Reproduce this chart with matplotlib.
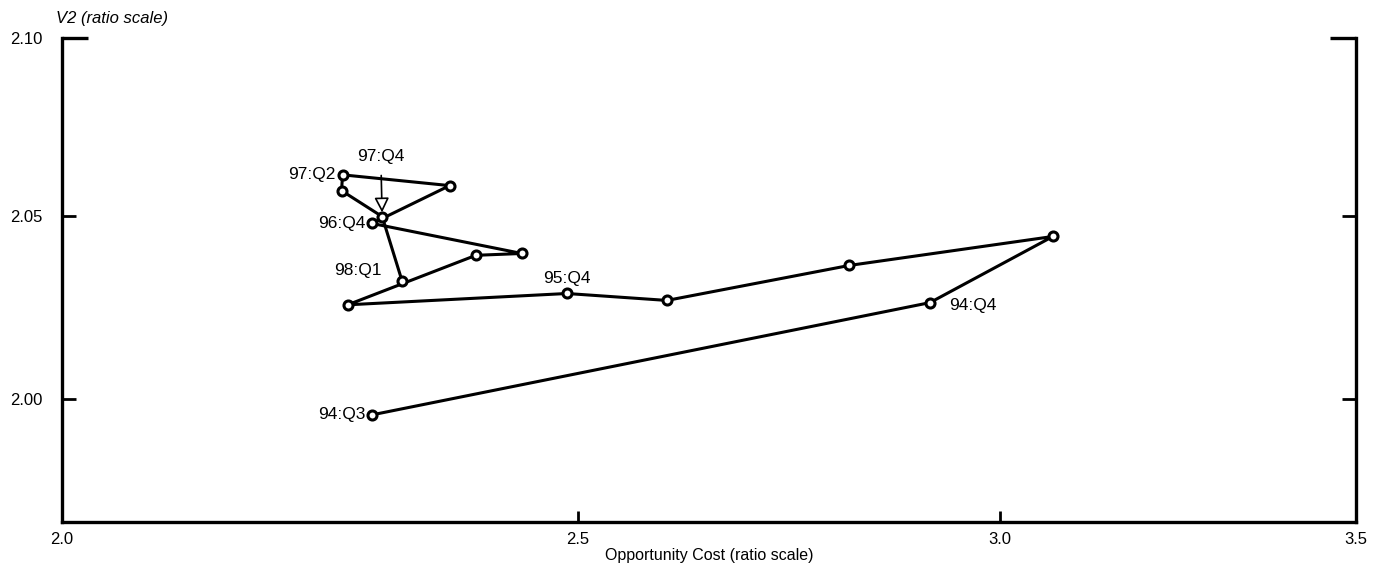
import matplotlib
matplotlib.use("Agg")
import matplotlib.pyplot as plt
from matplotlib.ticker import FixedLocator, NullFormatter, FixedFormatter

# quarterly path, 94:Q3 .. 98:Q1
quarters = ["94:Q3", "94:Q4", "95:Q1", "95:Q2", "95:Q3", "95:Q4",
            "96:Q1", "96:Q2", "96:Q3", "96:Q4",
            "97:Q1", "97:Q2", "97:Q3", "97:Q4", "98:Q1"]
opp_cost = [2.287, 2.911, 3.070, 2.811, 2.598, 2.488,
            2.263, 2.392, 2.440, 2.287,
            2.365, 2.258, 2.257, 2.297, 2.317]
v2 = [1.9957, 2.0262, 2.0444, 2.0364, 2.0268, 2.0287,
      2.0256, 2.0392, 2.0397, 2.0480,
      2.0585, 2.0615, 2.0571, 2.0499, 2.0320]

x_ticks = [2.0, 2.5, 3.0, 3.5]
x_ticklabels = ["2.0", "2.5", "3.0", "3.5"]
y_ticks = [2.00, 2.05]
y_ticklabels = ["2.00", "2.05"]
y_top = 2.10

plt.rcParams["font.family"] = ["Liberation Sans", "DejaVu Sans"]

fig = plt.figure(figsize=(13.84, 5.66), dpi=100)
ax = fig.add_axes([0.0448, 0.0777, 0.9350, 0.8553])

ax.plot(opp_cost, v2, color="black", lw=2.2, marker="o", ms=6.5,
        mfc="white", mec="black", mew=2.2, zorder=3)

ax.set_xscale("log")
ax.set_yscale("log")
ax.set_xlim(2.0, 3.5)
ax.set_ylim(1.967, 2.10)

ax.xaxis.set_major_locator(FixedLocator(x_ticks))
ax.xaxis.set_major_formatter(FixedFormatter(x_ticklabels))
ax.xaxis.set_minor_locator(FixedLocator([]))
ax.xaxis.set_minor_formatter(NullFormatter())
ax.yaxis.set_major_locator(FixedLocator(y_ticks))
ax.yaxis.set_major_formatter(FixedFormatter(y_ticklabels))
ax.yaxis.set_minor_locator(FixedLocator([y_top]))
ax.yaxis.set_minor_formatter(FixedFormatter(["2.10"]))

ax.spines["top"].set_visible(False)
for s in ("left", "right", "bottom"):
    ax.spines[s].set_linewidth(2.4)

ax.tick_params(axis="x", which="major", direction="in", length=8, width=2.0,
               pad=7, labelsize=12)
ax.tick_params(axis="y", which="major", direction="in", length=10, width=2.0,
               pad=14, labelsize=12, right=True)
ax.tick_params(axis="y", which="minor", direction="in", length=19, width=2.4,
               pad=14, labelsize=12, right=True)

ax.set_xlabel("Opportunity Cost (ratio scale)", fontsize=11.5, labelpad=1)
ax.text(-0.005, 1.025, "V2 (ratio scale)", transform=ax.transAxes,
        fontsize=12, style="italic", ha="left", va="bottom")

# point labels: offsets in points
label_pos = {
    "94:Q3": (-5, 0, "right"),
    "94:Q4": (14, -2, "left"),
    "95:Q4": (0, 11, "center"),
    "96:Q4": (-5, 0, "right"),
    "97:Q2": (-5, 0, "right"),
    "98:Q1": (-15, 8, "right"),
}
for q, x, y in zip(quarters, opp_cost, v2):
    if q in label_pos:
        dx, dy, ha = label_pos[q]
        ax.annotate(q, (x, y), xytext=(dx, dy), textcoords="offset points",
                    ha=ha, va="center", fontsize=12.5)

i = quarters.index("97:Q4")
ax.annotate("97:Q4", (opp_cost[i], v2[i]), xytext=(-1, 43),
            textcoords="offset points", ha="center", va="center",
            fontsize=12.5,
            arrowprops=dict(arrowstyle="-|>", fc="white", ec="black",
                            lw=1.2, mutation_scale=22, shrinkA=6, shrinkB=3))

fig.savefig("out.png", dpi=100)
